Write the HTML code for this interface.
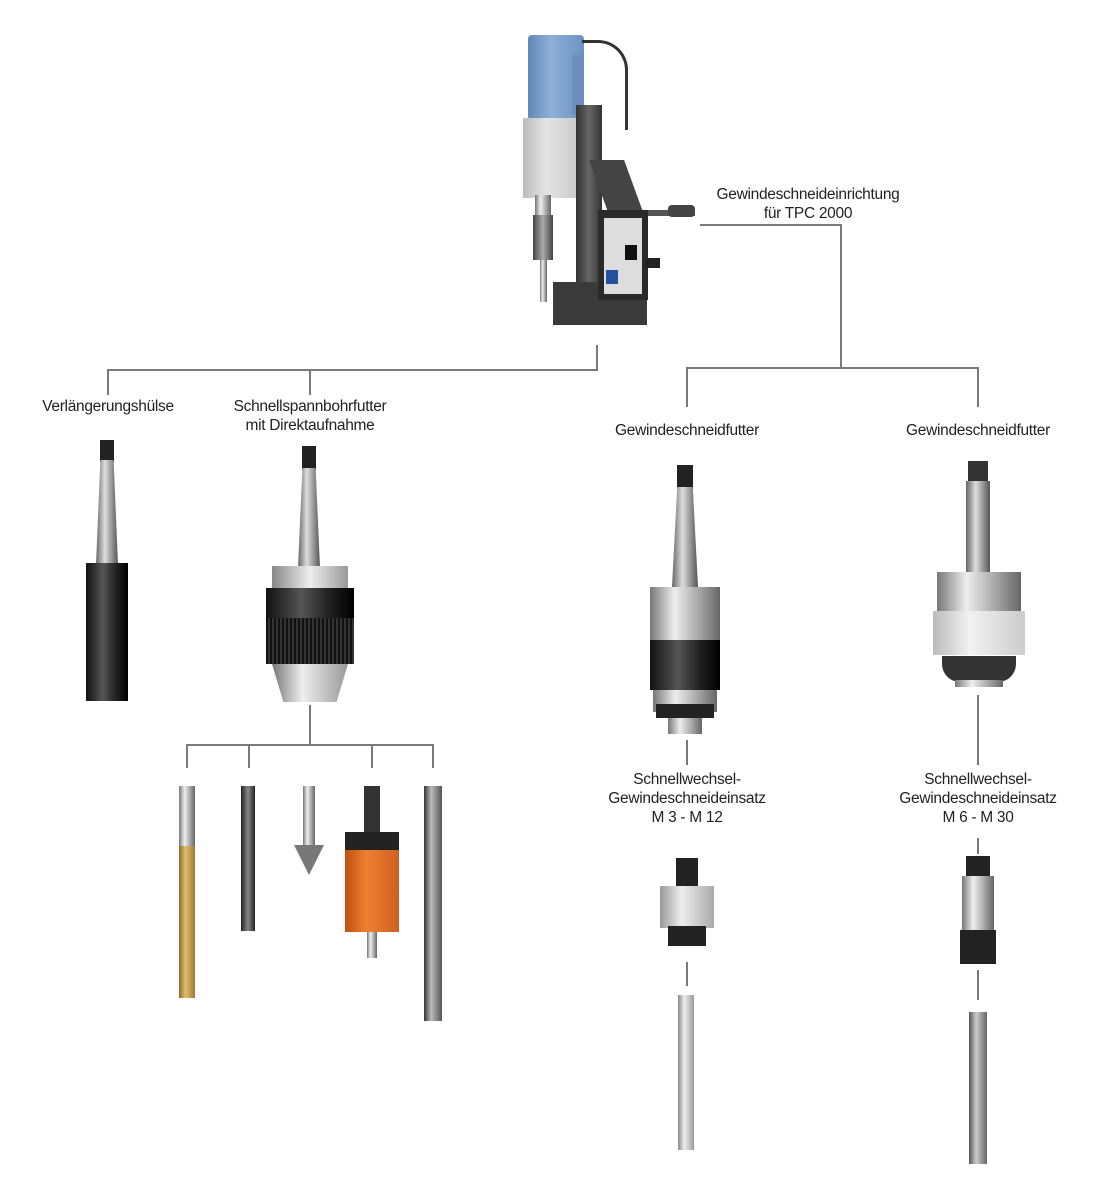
<!DOCTYPE html>
<html><head><meta charset="utf-8"><style>
body{margin:0;width:1102px;height:1200px;background:#fff;position:relative;overflow:hidden;font-family:"Liberation Sans",sans-serif}
div{position:absolute;box-sizing:border-box}
.l{background:#7a7a7a}
.t{font-size:15.5px;color:#222;text-align:center;line-height:19px;white-space:nowrap;transform:translateX(-50%);letter-spacing:-0.3px}
.m{background:linear-gradient(90deg,#777,#eee 35%,#bbb 60%,#666)}
.d{background:linear-gradient(90deg,#111,#555 40%,#222 70%,#000)}
</style></head><body>
<!-- lines -->
<div class="l" style="left:700px;top:224px;width:141px;height:2px"></div>
<div class="l" style="left:840px;top:224px;width:2px;height:144px"></div>
<div class="l" style="left:686px;top:367px;width:293px;height:2px"></div>
<div class="l" style="left:686px;top:367px;width:2px;height:40px"></div>
<div class="l" style="left:977px;top:367px;width:2px;height:40px"></div>
<div class="l" style="left:596px;top:345px;width:2px;height:26px"></div>
<div class="l" style="left:107px;top:369px;width:491px;height:2px"></div>
<div class="l" style="left:107px;top:369px;width:2px;height:26px"></div>
<div class="l" style="left:309px;top:369px;width:2px;height:26px"></div>
<div class="l" style="left:309px;top:705px;width:2px;height:40px"></div>
<div class="l" style="left:186px;top:744px;width:248px;height:2px"></div>
<div class="l" style="left:186px;top:744px;width:2px;height:24px"></div>
<div class="l" style="left:248px;top:744px;width:2px;height:24px"></div>
<div class="l" style="left:371px;top:744px;width:2px;height:24px"></div>
<div class="l" style="left:432px;top:744px;width:2px;height:24px"></div>
<div class="l" style="left:686px;top:740px;width:2px;height:25px"></div>
<div class="l" style="left:686px;top:858px;width:2px;height:22px"></div>
<div class="l" style="left:686px;top:962px;width:2px;height:24px"></div>
<div class="l" style="left:977px;top:695px;width:2px;height:70px"></div>
<div class="l" style="left:977px;top:838px;width:2px;height:16px"></div>
<div class="l" style="left:977px;top:970px;width:2px;height:30px"></div>
<!-- labels -->
<div class="t" style="left:808px;top:185px">Gewindeschneideinrichtung<br>für TPC 2000</div>
<div class="t" style="left:108px;top:397px">Verlängerungshülse</div>
<div class="t" style="left:310px;top:397px">Schnellspannbohrfutter<br>mit Direktaufnahme</div>
<div class="t" style="left:687px;top:421px">Gewindeschneidfutter</div>
<div class="t" style="left:978px;top:421px">Gewindeschneidfutter</div>
<div class="t" style="left:687px;top:770px">Schnellwechsel-<br>Gewindeschneideinsatz<br>M 3 - M 12</div>
<div class="t" style="left:978px;top:770px">Schnellwechsel-<br>Gewindeschneideinsatz<br>M 6 - M 30</div>
<!-- drill -->
<div style="left:528px;top:35px;width:56px;height:85px;background:linear-gradient(90deg,#5f86b6,#8fb0d8 40%,#6b92c2);border-radius:4px"></div>
<div style="left:572px;top:55px;width:12px;height:60px;background:#6d8fbf"></div>
<div style="left:582px;top:40px;width:46px;height:90px;border:3px solid #333;border-left:none;border-bottom:none;border-radius:0 30px 0 0"></div>
<div style="left:523px;top:118px;width:58px;height:80px;background:linear-gradient(90deg,#bbb,#e4e4e4 40%,#c8c8c8)"></div>
<div style="left:576px;top:105px;width:26px;height:195px;background:linear-gradient(90deg,#333,#666,#333)"></div>
<div style="left:600px;top:160px;width:35px;height:60px;background:#444;transform:skewX(20deg)"></div>
<div style="left:600px;top:210px;width:95px;height:6px;background:#555"></div>
<div style="left:668px;top:205px;width:27px;height:12px;background:#444;border-radius:4px"></div>
<div style="left:535px;top:195px;width:16px;height:20px" class="m"></div>
<div style="left:533px;top:215px;width:20px;height:45px;background:linear-gradient(90deg,#444,#aaa,#444)"></div>
<div style="left:540px;top:260px;width:7px;height:42px" class="m"></div>
<div style="left:553px;top:282px;width:94px;height:43px;background:#3a3a3a"></div>
<div style="left:598px;top:210px;width:50px;height:90px;background:#2a2a2a"></div>
<div style="left:604px;top:218px;width:38px;height:76px;background:#ddd"></div>
<div style="left:606px;top:270px;width:12px;height:14px;background:#2450a0"></div>
<div style="left:625px;top:245px;width:12px;height:15px;background:#111"></div>
<div style="left:645px;top:258px;width:15px;height:10px;background:#222"></div>
<!-- sleeve -->
<div style="left:100px;top:440px;width:14px;height:22px;background:#222"></div>
<div style="left:96px;top:460px;width:22px;height:105px;background:linear-gradient(90deg,#666,#ddd 40%,#999,#555);clip-path:polygon(20% 0,80% 0,100% 100%,0 100%)"></div>
<div style="left:86px;top:563px;width:42px;height:138px" class="d"></div>
<!-- chuck -->
<div style="left:302px;top:446px;width:14px;height:24px;background:#222"></div>
<div style="left:298px;top:468px;width:22px;height:100px;background:linear-gradient(90deg,#666,#ddd 40%,#999,#555);clip-path:polygon(20% 0,80% 0,100% 100%,0 100%)"></div>
<div style="left:272px;top:566px;width:76px;height:24px;background:linear-gradient(90deg,#888,#eee,#999)"></div>
<div style="left:266px;top:588px;width:88px;height:30px" class="d"></div>
<div style="left:266px;top:618px;width:88px;height:46px;background:repeating-linear-gradient(90deg,#111 0 2px,#333 2px 4px)"></div>
<div style="left:272px;top:664px;width:76px;height:38px;background:linear-gradient(90deg,#777,#eee 40%,#999);clip-path:polygon(0 0,100% 0,85% 100%,15% 100%)"></div>
<!-- tools -->
<div style="left:179px;top:786px;width:16px;height:212px;background:linear-gradient(90deg,#8a6a2a,#e0c070 40%,#a07a30)"></div>
<div style="left:179px;top:786px;width:16px;height:60px" class="m"></div>
<div style="left:241px;top:786px;width:14px;height:145px;background:linear-gradient(90deg,#222,#888,#222)"></div>
<div style="left:303px;top:786px;width:12px;height:60px" class="m"></div>
<div style="left:294px;top:845px;width:30px;height:30px;background:#777;clip-path:polygon(0 0,100% 0,50% 100%)"></div>
<div style="left:364px;top:786px;width:16px;height:50px;background:#333"></div>
<div style="left:345px;top:832px;width:54px;height:20px;background:#222"></div>
<div style="left:345px;top:850px;width:54px;height:82px;background:linear-gradient(90deg,#c05010,#f08030 40%,#d06020)"></div>
<div style="left:367px;top:932px;width:10px;height:26px" class="m"></div>
<div style="left:424px;top:786px;width:18px;height:235px;background:linear-gradient(90deg,#333,#bbb 40%,#555)"></div>
<!-- tap holder 1 -->
<div style="left:677px;top:465px;width:16px;height:24px;background:#222"></div>
<div style="left:672px;top:487px;width:26px;height:100px;background:linear-gradient(90deg,#666,#ddd 40%,#999,#555);clip-path:polygon(20% 0,80% 0,100% 100%,0 100%)"></div>
<div style="left:650px;top:587px;width:70px;height:55px" class="m"></div>
<div style="left:650px;top:640px;width:70px;height:50px" class="d"></div>
<div style="left:653px;top:690px;width:64px;height:22px" class="m"></div>
<div style="left:656px;top:704px;width:58px;height:14px;background:#222"></div>
<div style="left:668px;top:718px;width:34px;height:16px" class="m"></div>
<!-- tap holder 2 -->
<div style="left:968px;top:461px;width:20px;height:22px;background:#333"></div>
<div style="left:966px;top:481px;width:24px;height:92px;background:linear-gradient(90deg,#666,#ddd 40%,#999,#555)"></div>
<div style="left:937px;top:572px;width:84px;height:40px" class="m"></div>
<div style="left:933px;top:611px;width:92px;height:44px;background:linear-gradient(90deg,#bbb,#f2f2f2 40%,#ccc)"></div>
<div style="left:942px;top:656px;width:74px;height:26px;background:#333;border-radius:0 0 18px 18px"></div>
<div style="left:955px;top:680px;width:48px;height:7px" class="m"></div>
<!-- insert 1 -->
<div style="left:676px;top:858px;width:22px;height:30px;background:#222"></div>
<div style="left:660px;top:886px;width:54px;height:42px;background:linear-gradient(90deg,#999,#eee 40%,#aaa)"></div>
<div style="left:668px;top:926px;width:38px;height:20px;background:#222"></div>
<!-- insert 2 -->
<div style="left:966px;top:856px;width:24px;height:22px;background:#222"></div>
<div style="left:962px;top:876px;width:32px;height:54px" class="m"></div>
<div style="left:960px;top:930px;width:36px;height:34px;background:#222"></div>
<!-- taps -->
<div style="left:678px;top:995px;width:16px;height:155px;background:linear-gradient(90deg,#888,#eee 40%,#999)"></div>
<div style="left:969px;top:1012px;width:18px;height:152px;background:linear-gradient(90deg,#555,#ccc 40%,#666)"></div>
</body></html>
